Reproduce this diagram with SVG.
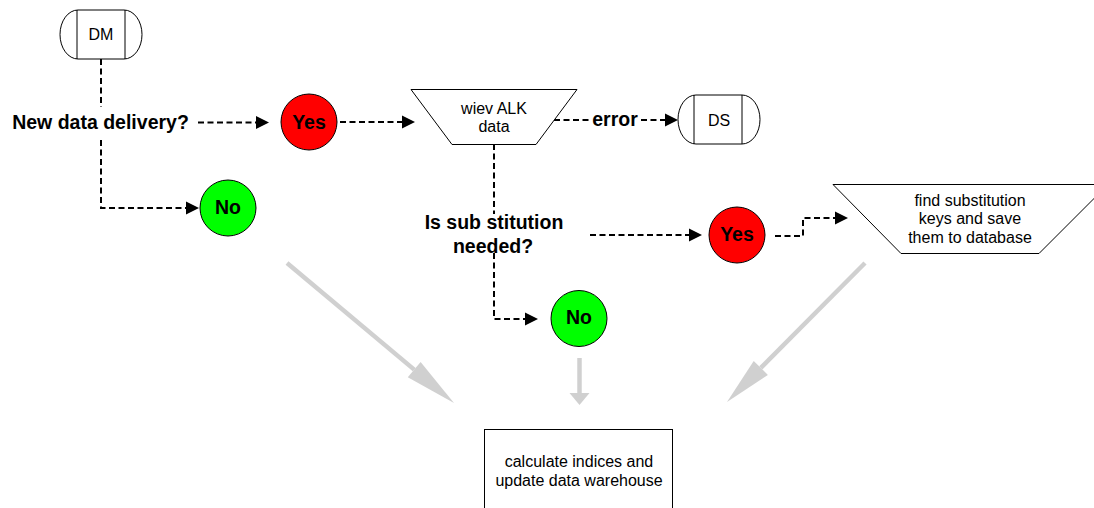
<svg xmlns="http://www.w3.org/2000/svg" width="1094" height="508" viewBox="0 0 1094 508">
<style>
.shape{fill:#fff;stroke:#000;stroke-width:1}
.txt{font-family:"Liberation Sans",Arial,sans-serif;font-size:16px;fill:#000;text-anchor:middle}
.lbl{font-family:"Liberation Sans",Arial,sans-serif;font-size:19.5px;font-weight:bold;fill:#000;text-anchor:middle}
.dash{fill:none;stroke:#000;stroke-width:2;stroke-dasharray:6,3.5}
.arr{marker-end:url(#ah)}
.gray{fill:none;stroke:#d0d0d0;stroke-width:4.5}
.grayhead{fill:#d0d0d0}
.red{fill:#ff0000;stroke:#000;stroke-width:1}
.green{fill:#00ff00;stroke:#000;stroke-width:1}
</style>
<defs>
<marker id="ah" markerUnits="userSpaceOnUse" markerWidth="14" markerHeight="14" viewBox="0 0 14 14" refX="9" refY="7" orient="auto">
<path d="M0,0.5 L13,7 L0,13.5 z" fill="#000"/>
</marker>
</defs>
<rect width="1094" height="508" fill="#fff"/>

<g id="connectors">
<path class="dash" d="M101,59 V107"/>
<path class="dash arr" d="M101,140 V208 H195"/>
<path class="dash arr" d="M198,122.5 H265"/>
<path class="dash arr" d="M340,122 H411"/>
<path class="dash" d="M554,120 H589"/>
<text class="lbl" x="615" y="125.5">error</text>
<path class="dash arr" d="M641,120 H674"/>
<path class="dash" d="M494,144 V214"/>
<path class="dash arr" d="M494,253 V319 H534"/>
<path class="dash arr" d="M590,235 H698"/>
<path class="dash arr" d="M775,236 H803 V218 H844"/>
<path class="gray" d="M287,263 L414.2,369.6"/>
<polygon class="grayhead" points="454,403 420.6,361.9 407.8,377.3"/>
<path class="gray" d="M579.5,358 V394"/>
<polygon class="grayhead" points="569.5,393 589.5,393 579.5,405"/>
<path class="gray" d="M865,263 L760.8,367.9"/>
<polygon class="grayhead" points="727,402 767.9,374.9 753.7,360.9"/>
</g>

<g id="node-dm">
<rect class="shape" x="60" y="10" width="82" height="49" rx="18" ry="24.5"/>
<line class="shape" x1="77" y1="10" x2="77" y2="59"/>
<line class="shape" x1="125" y1="10" x2="125" y2="59"/>
<text class="txt" x="101" y="40">DM</text>
</g>

<g id="node-q1">
<text class="lbl" x="100.5" y="129">New data delivery?</text>
</g>

<g id="node-yes1">
<circle class="red" cx="309" cy="122" r="28"/>
<text class="lbl" x="309" y="128.5">Yes</text>
</g>

<g id="node-no1">
<circle class="green" cx="228" cy="208" r="28"/>
<text class="lbl" x="228" y="213.5">No</text>
</g>

<g id="node-wiev">
<polygon class="shape" points="411,89.5 577,89.5 536,144.5 452,144.5"/>
<text class="txt" x="494" y="114">wiev ALK</text>
<text class="txt" x="494" y="132">data</text>
</g>

<g id="node-ds">
<rect class="shape" x="678" y="95" width="82" height="49" rx="18" ry="24.5"/>
<line class="shape" x1="694" y1="95" x2="694" y2="144"/>
<line class="shape" x1="742" y1="95" x2="742" y2="144"/>
<text class="txt" x="719" y="125.5">DS</text>
</g>

<g id="node-q2">
<text class="lbl" x="494" y="229">Is sub stitution</text>
<text class="lbl" x="493" y="252.5">needed?</text>
</g>

<g id="node-yes2">
<circle class="red" cx="737" cy="235" r="28"/>
<text class="lbl" x="737" y="241">Yes</text>
</g>

<g id="node-no2">
<circle class="green" cx="579" cy="318.5" r="28"/>
<text class="lbl" x="579" y="324">No</text>
</g>

<g id="node-find">
<polygon class="shape" points="833,184.5 1108,184.5 1039,253.5 901,253.5"/>
<text class="txt" x="970" y="205.5">find substitution</text>
<text class="txt" x="970" y="224">keys and save</text>
<text class="txt" x="970" y="242.5">them to database</text>
</g>

<g id="node-calc">
<rect class="shape" x="484.5" y="429.5" width="188" height="90"/>
<text class="txt" x="579" y="467">calculate indices and</text>
<text class="txt" x="579" y="485.5">update data warehouse</text>
</g>
</svg>
